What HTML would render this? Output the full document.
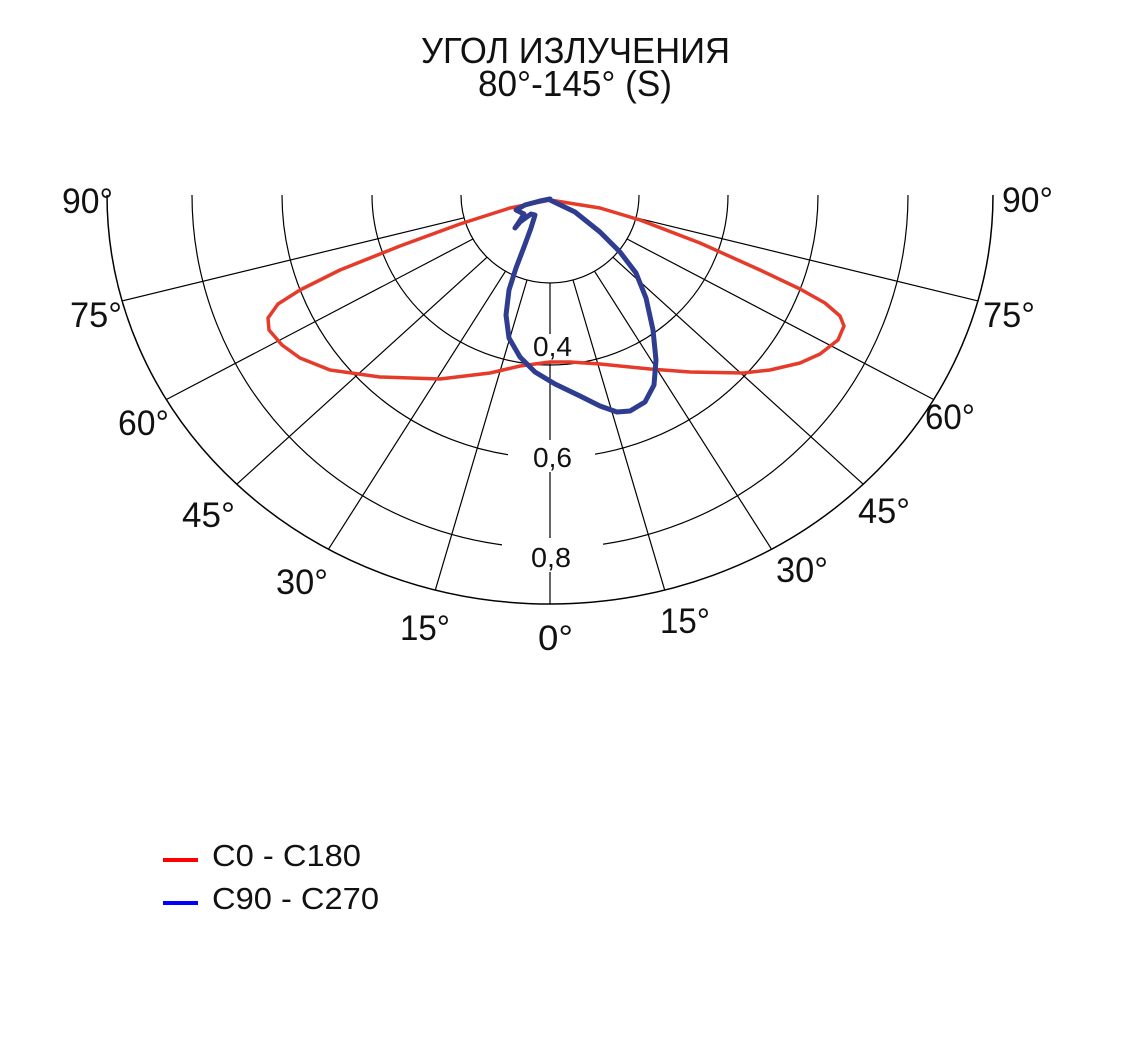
<!DOCTYPE html>
<html><head><meta charset="utf-8"><style>
html,body{margin:0;padding:0;background:#fff;}
svg{display:block;}
text{font-family:"Liberation Sans","DejaVu Sans",sans-serif;fill:#111;}
</style></head><body>
<svg width="1126" height="1056" viewBox="0 0 1126 1056" xmlns="http://www.w3.org/2000/svg">
<rect width="1126" height="1056" fill="#fff"/>
<text x="421" y="63" font-size="36" textLength="309" lengthAdjust="spacingAndGlyphs">УГОЛ ИЗЛУЧЕНИЯ</text>
<text x="478" y="96" font-size="36" textLength="194" lengthAdjust="spacingAndGlyphs">80°-145° (S)</text>

<g fill="none" stroke="#000" stroke-width="1.2">
<path d="M461 195 A89 88 0 0 0 639 195"/>
<path d="M372 195 A178 170 0 0 0 728 195"/>
<path d="M282 195 A268 263 0 0 0 818 195"/>
<path d="M192 195 A358 353 0 0 0 908 195"/>
<path d="M107 195 A443 409 0 0 0 993 195" stroke-width="1.5"/>
<line x1="550" y1="283" x2="550" y2="604"/>
<line x1="527" y1="280" x2="435.3" y2="590.1"/>
<line x1="573" y1="280" x2="664.7" y2="590.1"/>
<line x1="505.5" y1="271.2" x2="328.5" y2="549.2"/>
<line x1="594.5" y1="271.2" x2="771.5" y2="549.2"/>
<line x1="487.1" y1="257.2" x2="236.8" y2="484.2"/>
<line x1="612.9" y1="257.2" x2="863.2" y2="484.2"/>
<line x1="472.9" y1="239" x2="166.4" y2="399.5"/>
<line x1="627.1" y1="239" x2="933.6" y2="399.5"/>
<line x1="464" y1="217.8" x2="122.1" y2="300.9"/>
<line x1="636" y1="217.8" x2="977.9" y2="300.9"/>
</g>
<rect x="528" y="334" width="46" height="27" fill="#fff"/>
<rect x="508" y="440" width="87" height="32" fill="#fff"/>
<rect x="502" y="538" width="101" height="34" fill="#fff"/>
<text x="533" y="356" font-size="28" textLength="39" lengthAdjust="spacingAndGlyphs">0,4</text>
<text x="533" y="467" font-size="28" textLength="39" lengthAdjust="spacingAndGlyphs">0,6</text>
<text x="531" y="567" font-size="28" textLength="40" lengthAdjust="spacingAndGlyphs">0,8</text>

<g font-size="35">
<text x="62" y="213" textLength="51" lengthAdjust="spacingAndGlyphs">90°</text>
<text x="70" y="327" textLength="52" lengthAdjust="spacingAndGlyphs">75°</text>
<text x="118" y="435" textLength="51" lengthAdjust="spacingAndGlyphs">60°</text>
<text x="182" y="527" textLength="53" lengthAdjust="spacingAndGlyphs">45°</text>
<text x="276" y="594" textLength="52" lengthAdjust="spacingAndGlyphs">30°</text>
<text x="400" y="640" textLength="50" lengthAdjust="spacingAndGlyphs">15°</text>
<text x="538" y="650" textLength="35" lengthAdjust="spacingAndGlyphs">0°</text>
<text x="660" y="633" textLength="50" lengthAdjust="spacingAndGlyphs">15°</text>
<text x="776" y="582" textLength="52" lengthAdjust="spacingAndGlyphs">30°</text>
<text x="858" y="523" textLength="52" lengthAdjust="spacingAndGlyphs">45°</text>
<text x="925" y="429" textLength="50" lengthAdjust="spacingAndGlyphs">60°</text>
<text x="983" y="327" textLength="52" lengthAdjust="spacingAndGlyphs">75°</text>
<text x="1002" y="212" textLength="51" lengthAdjust="spacingAndGlyphs">90°</text>
</g>

<polyline fill="none" stroke="#e63b2a" stroke-width="3.5" stroke-linejoin="round" points="550,200 600,208 640,220 700,243 760,270 800,289 825,303 840,316 844,326 838,340 820,354 800,363 770,370 743,373 690,372 650,369 600,364 570,362 550,362 520,366 490,373 440,379 380,377 330,370 300,358 282,345 269,330 268,318 278,304 300,290 340,270 400,246 460,224 510,208 550,200"/>
<polyline fill="none" stroke="#2e3d8f" stroke-width="5" stroke-linejoin="round" stroke-linecap="round" points="550,200 575,212 600,232 620,252 636,273 646,298 653,330 656,360 654,385 645,402 630,411 617,412 600,406 580,396 555,384 535,372 520,357 509,338 506,315 509,290 516,268 524,247 531,228 535,215 531,214 520,222 515,228 521,219 524,214 516,210 525,205 540,201 550,199"/>

<line x1="163" y1="860" x2="198" y2="860" stroke="#ff0000" stroke-width="4"/>
<line x1="163" y1="903" x2="198" y2="903" stroke="#0000ff" stroke-width="4"/>
<text x="212" y="866" font-size="31" textLength="149" lengthAdjust="spacingAndGlyphs">C0 - C180</text>
<text x="212" y="909" font-size="31" textLength="167" lengthAdjust="spacingAndGlyphs">C90 - C270</text>
</svg>
</body></html>
